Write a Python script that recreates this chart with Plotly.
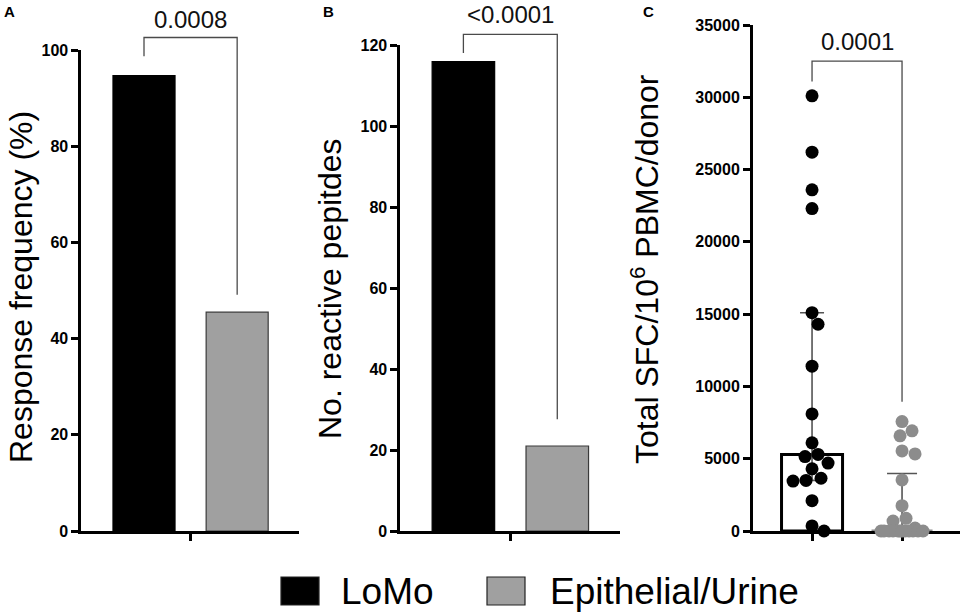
import numpy as np
import plotly.graph_objects as go

W, H = 965, 616

groups = ["LoMo", "Epithelial/Urine"]
group_colors = ["#000000", "#a0a0a0"]
dot_colors = ["#000000", "#8c8c8c"]

# panel A / B values
response_freq = [94.7, 45.5]
reactive_peptides = [116, 21]

# panel C: total SFC per donor
lomo_sfc = [30100, 26200, 23600, 22300, 15100, 14300, 11400, 8100, 6100, 5300,
            5150, 4700, 4300, 3650, 3500, 3450, 2100, 350, 0]
epi_sfc = [7570, 6930, 6580, 5540, 5330, 3530, 1750, 880, 690, 200,
           0, 0, 0, 0, 0, 0, 0, 0, 0, 0, 0, 0]

p_values = ["0.0008", "<0.0001", "0.0001"]
panel_letters = ["A", "B", "C"]
y_titles = ["Response frequency (%)", "No. reactive pepitdes",
            "Total SFC/10<sup>6</sup> PBMC/donor"]
y_ticks = [[0, 20, 40, 60, 80, 100], [0, 20, 40, 60, 80, 100, 120],
           [0, 5000, 10000, 15000, 20000, 25000, 30000, 35000]]
y_max = [100, 120, 35000]

FONT = "Liberation Sans, Arial, sans-serif"

# pixel layout of the three panels (left, right / bottom, top)
panels = [
    dict(px=(81.4, 299.3), py=(531, 50), xr=(-0.672, 1.667), bw=0.666),
    dict(px=(400.4, 620.0), py=(531, 45.4), xr=(-0.671, 1.668), bw=0.666),
    dict(px=(753.0, 960.0), py=(531, 25), xr=(-0.656, 1.644), bw=0.678),
]


def to_paper(k, val):
    # data value of panel k -> paper y (so brackets can sit above the axis top)
    b, t = panels[k]["py"]
    return 1 - (b - val / y_max[k] * (b - t)) / H


def swarm_offsets(values, px_per_val, diam, max_half):
    # simple greedy beeswarm, returns pixel offsets
    cands = [0.0]
    for k in range(1, int(max_half) + 1):
        cands += [float(k), float(-k)]
    placed = []
    offs = np.zeros(len(values))
    for i in np.argsort(values)[::-1]:
        y = values[i] * px_per_val
        best, best_d = 0.0, -1.0
        for c in cands:
            d = min([np.hypot(c - px, y - py) for py, px in placed], default=1e9)
            if d >= diam:
                best = c
                break
            if d > best_d + 1e-9:
                best, best_d = c, d
        offs[i] = best
        placed.append((y, best))
    return offs


fig = go.Figure()

# panels A and B: simple bars
for k, vals in enumerate([response_freq, reactive_peptides]):
    ax = "" if k == 0 else str(k + 1)
    for j in range(2):
        fig.add_trace(go.Bar(
            x=[j], y=[vals[j]], width=panels[k]["bw"],
            marker=dict(color=group_colors[j], line=dict(color="#000000" if j == 0 else "#3a3a3a", width=1.2)),
            xaxis="x" + ax, yaxis="y" + ax, showlegend=False, hoverinfo="y"))

# panel C: median with interquartile range + individual donors
pc = panels[2]
px_per_y = (pc["py"][0] - pc["py"][1]) / y_max[2]
px_per_x = (pc["px"][1] - pc["px"][0]) / (pc["xr"][1] - pc["xr"][0])
for j, vals in enumerate([lomo_sfc, epi_sfc]):
    v = np.array(vals, dtype=float)
    med = np.median(v)
    q1, q3 = np.percentile(v, [25, 75], method="weibull")
    fig.add_trace(go.Bar(
        x=[j], y=[med], width=pc["bw"],
        marker=dict(color="white", line=dict(color=dot_colors[j], width=3)),
        error_y=dict(type="data", symmetric=False, array=[q3 - med], arrayminus=[med - q1],
                     color="#555555", thickness=1.6, width=12 if j == 0 else 15),
        xaxis="x3", yaxis="y3", showlegend=False, hoverinfo="y"))
for j, vals in enumerate([lomo_sfc, epi_sfc]):
    v = np.array(vals, dtype=float)
    offs = swarm_offsets(v, px_per_y, 13, 24 if j == 0 else 21)
    fig.add_trace(go.Scatter(
        x=j + offs / px_per_x, y=v, mode="markers",
        marker=dict(size=13, color=dot_colors[j]),
        cliponaxis=False, xaxis="x3", yaxis="y3", showlegend=False))

# significance brackets (left foot, right foot, top, label) in data units
brackets = [(98.7, 49.1, 102.6, 106.3), (118.1, 27.6, 122.7, 127.7),
            (31100, 8940, 32500, 33850)]
for k, (yl, yr, yt, ytx) in enumerate(brackets):
    ax = "" if k == 0 else str(k + 1)
    fig.add_shape(type="path", xref="x" + ax, yref="paper",
                  path=f"M 0,{to_paper(k, yl)} L 0,{to_paper(k, yt)} L 1,{to_paper(k, yt)} L 1,{to_paper(k, yr)}",
                  line=dict(color="#4a4a4a", width=1.3))
    fig.add_annotation(x=0.5, y=to_paper(k, ytx), xref="x" + ax, yref="paper",
                       text=p_values[k], showarrow=False, yanchor="middle",
                       font=dict(family=FONT, size=24, color="#111111"))

layout = dict(
    width=W, height=H, margin=dict(l=0, r=0, t=0, b=0, autoexpand=False),
    plot_bgcolor="white", paper_bgcolor="white", barmode="overlay",
    font=dict(family=FONT, color="#000000"),
)
for k, p in enumerate(panels):
    ax = "" if k == 0 else str(k + 1)
    xt = [0.5] if k < 2 else [0, 1]
    layout["xaxis" + ax] = dict(
        domain=[p["px"][0] / W, p["px"][1] / W], range=list(p["xr"]),
        anchor="y" + ax, showline=True, linecolor="black", linewidth=3,
        ticks="outside", ticklen=7, tickwidth=3, tickcolor="black",
        tickvals=xt, showticklabels=False, showgrid=False, zeroline=False,
        fixedrange=True, layer="below traces" if k == 2 else "above traces")
    layout["yaxis" + ax] = dict(
        domain=[1 - p["py"][0] / H, 1 - p["py"][1] / H], range=[0, y_max[k]],
        anchor="x" + ax, showline=True, linecolor="black", linewidth=3,
        ticks="outside", ticklen=7, tickwidth=3, tickcolor="black",
        tickvals=y_ticks[k], tickformat="d", showgrid=False, zeroline=False,
        tickfont=dict(family=FONT, size=16, weight="bold"),
        fixedrange=True, layer="below traces" if k == 2 else "above traces")
fig.update_layout(**layout)

# axis titles and panel letters
title_pos = [(21, 287), (330, 289), (645, 269)]
letter_pos = [(9, 11), (328, 11), (648, 11)]
for k in range(3):
    fig.add_annotation(x=title_pos[k][0] / W, y=1 - title_pos[k][1] / H, xref="paper", yref="paper",
                       text=y_titles[k], textangle=-90, showarrow=False,
                       xanchor="center", yanchor="middle",
                       font=dict(family=FONT, size=32, color="#000000"))
    fig.add_annotation(x=letter_pos[k][0] / W, y=1 - letter_pos[k][1] / H, xref="paper", yref="paper",
                       text=panel_letters[k], showarrow=False,
                       xanchor="center", yanchor="middle",
                       font=dict(family=FONT, size=15, weight="bold", color="#000000"))

# legend drawn by hand so the swatches match the bar style
legend_x = [(281, 319, 339), (487, 525, 548)]
for j, (x0, x1, xt) in enumerate(legend_x):
    fig.add_shape(type="rect", xref="paper", yref="paper",
                  x0=x0 / W, x1=x1 / W, y0=1 - 605 / H, y1=1 - 577 / H,
                  fillcolor=group_colors[j], line=dict(color="#222222", width=1.2))
    fig.add_annotation(x=xt / W, y=1 - 591 / H, xref="paper", yref="paper",
                       text=groups[j], showarrow=False, xanchor="left", yanchor="middle",
                       font=dict(family=FONT, size=37, color="#000000"))

fig.write_html("out.html", config={"displayModeBar": False},
               post_script="document.body.style.margin='0';")
